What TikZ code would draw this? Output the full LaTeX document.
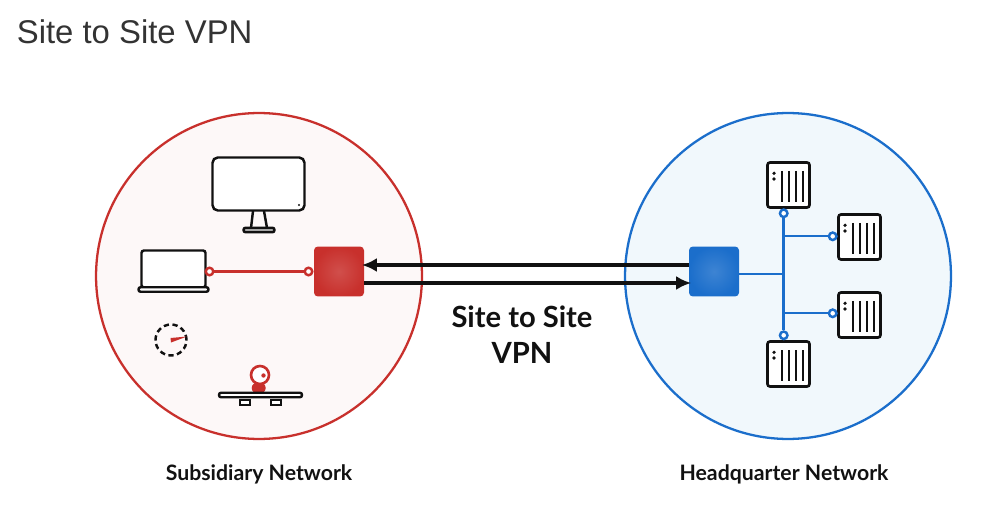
\documentclass[tikz,border=0pt]{standalone}
\usepackage{fontspec}
\setmainfont{Lato}
\newfontfamily\titlefont{Liberation Sans}
\usetikzlibrary{arrows.meta,calc,positioning}
\definecolor{subred}{HTML}{C8302C}
\definecolor{hqblue}{HTML}{1B6ECB}
\definecolor{subtint}{HTML}{FDF8F8}
\definecolor{hqtint}{HTML}{F1F8FC}
\definecolor{inkblack}{HTML}{111111}
\tikzset{
  netzone/.style={circle,minimum size=6.52cm,inner sep=0pt,line width=1.3pt},
  hubbox/.style={rectangle,rounded corners=2.2pt,minimum size=1cm,inner sep=0pt},
  portdot/.style={circle,draw=#1,fill=white,line width=1.4pt,minimum size=0.15cm,inner sep=0pt},
  serverbox/.style={rectangle,draw=inkblack,fill=white,line width=1.5pt,rounded corners=1.4pt,minimum width=0.84cm,minimum height=0.9cm,inner sep=0pt},
  kitbox/.style={rectangle,draw=inkblack,fill=white,line width=1.4pt,inner sep=0pt},
  vpnlink/.style={line width=2.2pt,draw=inkblack,shorten >=-0.05cm,-{Latex[length=0.3cm,width=0.28cm]}},
  netlabel/.style={font=\fontsize{12.1}{14}\selectfont\bfseries,text=inkblack}
}
\begin{document}
\begin{tikzpicture}[x=0.02cm,y=-0.02cm]
  \useasboundingbox (0,0) rectangle (999,509);
  \node[font=\titlefont\fontsize{18.7}{22}\selectfont,text=black!80,anchor=west,inner sep=0pt] (title) at (16.5,32) {Site to Site VPN};
  % the two networks
  \node[netzone,draw=subred,fill=subtint] (subnet) at (259,276) {};
  \node[netzone,draw=hqblue,fill=hqtint] (hqnet) at (788,276) {};
  \node[netlabel] (sublabel) at (259,474.5) {Subsidiary Network};
  \node[netlabel] (hqlabel) at (784,474.5) {Headquarter Network};
  % hubs and tunnel
  \node[hubbox,inner color=subred!85!white,outer color=subred] (hubred) at (339,271.5) {};
  \node[hubbox,inner color=hqblue!85!white,outer color=hqblue] (hubblue) at (714,271.5) {};
  \draw[vpnlink] ([yshift=0.13cm]hubblue.west) -- ([yshift=0.13cm]hubred.east);
  \draw[vpnlink] ([yshift=-0.23cm]hubred.east) -- ([yshift=-0.23cm]hubblue.west);
  \node[font=\fontsize{16.6}{20.8}\selectfont\bfseries,text=inkblack,align=center] (vpnlabel) at (522,334.5) {Site to Site\\VPN};
  % monitor
  \node[kitbox,rounded corners=3pt,minimum width=1.84cm,minimum height=1.06cm] (monitor) at (258.5,184) {};
  \fill[inkblack] (299,205) circle (1.2);
  \draw[line width=1.4pt,draw=inkblack] (253,211) -- (251,228) (264,211) -- (267,228);
  \node[kitbox,fill=black!35,rounded corners=1.2pt,minimum width=0.62cm,minimum height=0.09cm] (monbase) at (259,230) {};
  % laptop
  \node[kitbox,rounded corners=1.4pt,minimum width=1.28cm,minimum height=0.74cm] (laptop) at (173.5,269) {};
  \node[kitbox,rounded corners=1.2pt,minimum width=1.4cm,minimum height=0.09cm] (lapbase) at (173.5,289.5) {};
  \node[portdot=subred] (lapport) at (209.5,271.5) {};
  \node[portdot=subred] (hubport) at (308.5,271.5) {};
  \draw[subred,line width=1.25pt] (lapport) -- (hubport);
  % gauge
  \node[circle,draw=inkblack,dash pattern=on 3pt off 2pt,line width=1.4pt,minimum size=0.62cm,inner sep=0pt] (gauge) at (171,340) {};
  \fill[subred] (170.5,338) -- (187,336.5) -- (171,342.5) -- cycle;
  % webcam
  \fill[subred] (258.7,388) ellipse (7 and 6);
  \node[circle,draw=subred,fill=white,line width=1.5pt,minimum size=0.36cm,inner sep=0pt] (webcam) at (260,375) {};
  \fill[subred] (263.5,375.5) circle (2.2);
  \node[kitbox,rounded corners=1.2pt,minimum width=1.66cm,minimum height=0.09cm] (desk) at (260.5,395) {};
  \node[kitbox,line width=1.2pt,minimum width=0.2cm,minimum height=0.1cm,anchor=north] (footl) at (245,398.5) {};
  \node[kitbox,line width=1.2pt,minimum width=0.2cm,minimum height=0.1cm,anchor=north] (footr) at (276,398.5) {};
  % servers
  \foreach \srv/\sx/\sy in {srva/788.5/185,srvb/859.5/237,srvc/859.5/315,srvd/788.5/364}{
    \node[serverbox] (\srv) at (\sx,\sy) {};
    \fill[inkblack] ($(\srv.center)+(-14.5,-11.7)$) circle (1.8);
    \fill[inkblack] ($(\srv.center)+(-14.5,-6)$) circle (1.8);
    \foreach \bx in {-6.5,0.5,7.5,14.5}
      \draw[inkblack,line width=1.6pt] ($(\srv.center)+(\bx,-14)$) -- ($(\srv.center)+(\bx,17)$);
  }
  % links to servers
  \coordinate (spinemid) at (783.7,274.3);
  \node[portdot=hqblue] (porta) at (783.7,213.3) {};
  \node[portdot=hqblue] (portb) at (832.7,236.3) {};
  \node[portdot=hqblue] (portc) at (832.7,313.3) {};
  \node[portdot=hqblue] (portd) at (783.7,335.3) {};
  \draw[hqblue,line width=1.7pt] (porta) -- (portd);
  \draw[hqblue,line width=1.3pt] (hubblue.east |- spinemid) -- (spinemid);
  \draw[hqblue,line width=1.3pt] (portb) -- (portb -| spinemid);
  \draw[hqblue,line width=1.3pt] (portc) -- (portc -| spinemid);
\end{tikzpicture}
\end{document}
